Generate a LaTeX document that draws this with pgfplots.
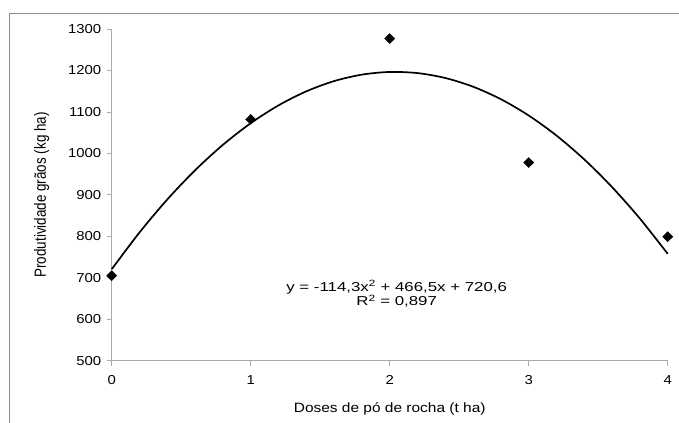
\documentclass[border=0pt]{standalone}
\usepackage{pgfplots}
\pgfplotsset{compat=1.18}
\usepackage{fontspec}
\setmainfont{Liberation Sans}
\newfontfamily\lab[FakeStretch=1.15]{Liberation Sans}
\newfontfamily\eqf[FakeStretch=1.3]{Liberation Sans}
\definecolor{axgray}{RGB}{170,170,170}
\definecolor{framegray}{RGB}{140,140,140}
\begin{document}
\begin{tikzpicture}
\useasboundingbox (-111.7bp,-62.3bp) rectangle (567.3bp,360.7bp);
\draw[framegray, line width=0.8bp] (-102.7bp,-70bp) -- (-102.7bp,347.7bp) -- (575bp,347.7bp);
\begin{axis}[
  at={(0,0)}, anchor=south west,
  scale only axis,
  width=556bp, height=331.7bp,
  xmin=0, xmax=4, ymin=500, ymax=1300,
  xtick={0,1,2,3,4}, ytick={500,600,...,1300},
  axis x line*=bottom, axis y line*=left,
  axis line style={axgray, line width=0.8bp, -},
  tick style={axgray, line width=0.8bp},
  tick align=outside, major tick length=5bp,
  /pgf/number format/assume math mode=true,
  /pgf/number format/1000 sep={},
  ticklabel style={font=\lab\fontsize{13}{15}\selectfont},
  yticklabel style={xshift=-2bp},
  xticklabel style={yshift=-6bp},
  xlabel={\lab\fontsize{13.5}{16}\selectfont Doses de pó de rocha (t ha)},
  ylabel={\scalebox{1}[1.2]{\fontsize{13.5}{16}\selectfont Produtividade grãos (kg ha)}},
  xlabel style={at={(axis description cs:0.5,0)}, anchor=center, yshift=-48bp},
  ylabel style={at={(axis description cs:0,0.5)}, anchor=center, xshift=0bp, yshift=70bp},
  clip=false,
]
\addplot[black, line width=1.7bp, smooth] coordinates {
(0,720.6) (0.2,809.33) (0.4,888.91) (0.6,959.35) (0.8,1020.65) (1.0,1072.8)
(1.2,1115.81) (1.4,1149.67) (1.6,1174.39) (1.8,1189.97) (2.0,1196.4)
(2.2,1193.69) (2.4,1181.83) (2.6,1160.83) (2.8,1130.69) (3.0,1091.4)
(3.2,1042.97) (3.4,985.39) (3.6,918.67) (3.8,842.81) (4.0,757.8)
};
\addplot[only marks, mark=diamond*, mark size=5bp, mark options={black, xscale=1.35}] coordinates {
(0,705) (1,1082) (2,1277) (3,978) (4,799)
};
\node[align=center, font=\eqf\fontsize{13}{14.5}\selectfont, inner sep=0pt] at (axis cs:2.05,661) {y = -114,3x\textsuperscript{2} + 466,5x + 720,6\\R\textsuperscript{2} = 0,897};
\end{axis}
\end{tikzpicture}
\end{document}
